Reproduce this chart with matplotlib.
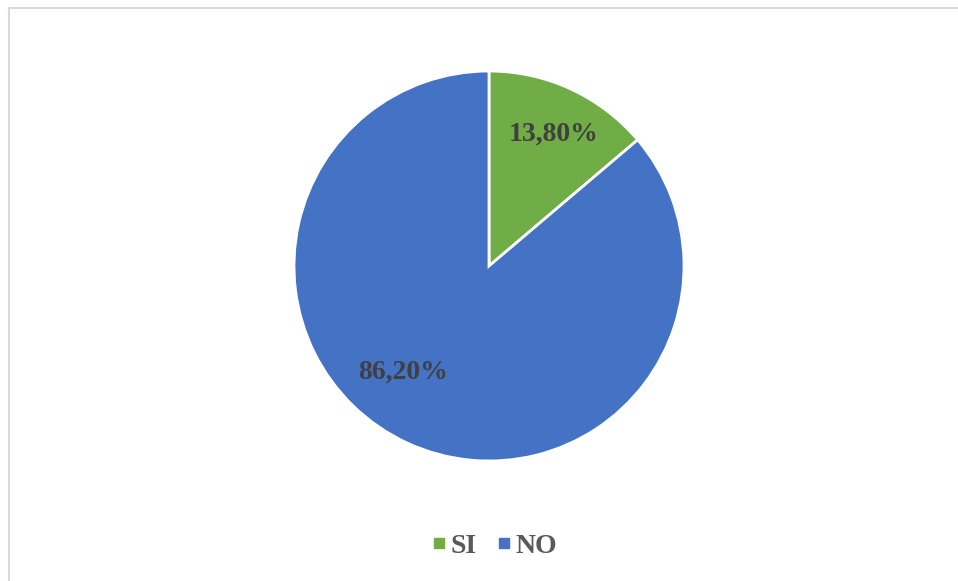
import matplotlib
matplotlib.use("Agg")
import matplotlib.pyplot as plt
from matplotlib.lines import Line2D

categories = ["SI", "NO"]
values = [13.80, 86.20]
value_labels = ["13,80%", "86,20%"]
colors = ["#70AD47", "#4472C4"]

W, H = 958, 581
fig = plt.figure(figsize=(W / 100, H / 100), dpi=100)
fig.patch.set_facecolor("white")

cx, cy, r = 489, 266, 195
ax = fig.add_axes([(cx - r) / W, (H - cy - r) / H, 2 * r / W, 2 * r / H])
wedges, _ = ax.pie(values, colors=colors, startangle=90, counterclock=False,
                   wedgeprops=dict(edgecolor="white", linewidth=2))
ax.set_xlim(-1, 1)
ax.set_ylim(-1, 1)
ax.set_aspect("equal")
ax.axis("off")

label_pos = [(0.33, 0.675), (-0.44, -0.545)]
for (x, y), t in zip(label_pos, value_labels):
    ax.text(x, y, t, ha="center", va="center", fontsize=20,
            fontweight="bold", family="Liberation Serif", color="#404040")

# chart border (light grey)
fig.add_artist(Line2D([8.5 / W, 1], [1 - 7.5 / H, 1 - 7.5 / H], color="#D9D9D9", lw=1.5))
fig.add_artist(Line2D([8.5 / W, 8.5 / W], [0, 1 - 7.5 / H], color="#D9D9D9", lw=1.5))

handles = [Line2D([], [], marker="s", linestyle="none", markersize=7,
                  markerfacecolor=c, markeredgecolor=c) for c in colors]
fig.legend(handles, categories, loc="center", ncol=2,
           bbox_to_anchor=(494 / W, 1 - 546 / H), frameon=False,
           prop=dict(family="Liberation Serif", weight="bold", size=20),
           labelcolor="#595959", handletextpad=0.1, columnspacing=0.7,
           handlelength=0.6)

fig.savefig("out.png", dpi=100, facecolor="white")
